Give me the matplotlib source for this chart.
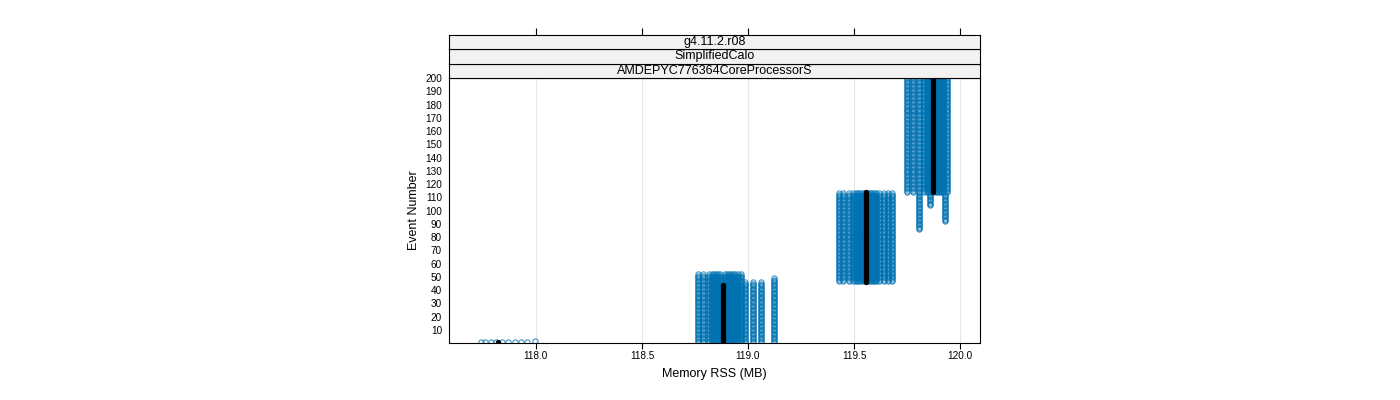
import matplotlib.pyplot as plt
import numpy as np

plt.rcParams['font.family'] = ['Liberation Sans', 'DejaVu Sans']

strip_labels = ["g4.11.2.r08", "SimplifiedCalo", "AMDEPYC776364CoreProcessorS"]
x_ticks = [118.0, 118.5, 119.0, 119.5, 120.0]
y_ticks = list(range(10, 201, 10))

# columns of runs: (memory RSS in MB, first event, last event)
col_mb = [
    # cluster near 117.8 (first event only)
    117.74, 117.76, 117.79, 117.81, 117.84, 117.87, 117.90, 117.93, 117.96, 117.995,
    # cluster near 118.9
    118.765, 118.79, 118.815, 118.83, 118.84, 118.85, 118.86, 118.87, 118.89, 118.90,
    118.91, 118.92, 118.93, 118.94, 118.955, 118.965, 118.988, 119.025, 119.063, 119.123,
    # cluster near 119.55
    119.428, 119.45, 119.475, 119.495, 119.51, 119.52, 119.53, 119.54, 119.55, 119.565,
    119.575, 119.585, 119.595, 119.605, 119.62, 119.64, 119.66, 119.678,
    # cluster near 119.87
    119.748, 119.777, 119.805, 119.83, 119.842, 119.855, 119.865, 119.88, 119.89, 119.90,
    119.91, 119.92, 119.94, 119.808, 119.858, 119.929,
]
col_first = [
    1, 1, 1, 1, 1, 1, 1, 1, 1, 2,
    1, 1, 1, 1, 1, 1, 1, 1, 1, 1,
    1, 1, 1, 1, 1, 1, 1, 1, 1, 1,
    47, 47, 47, 47, 47, 47, 47, 47, 47, 47,
    47, 47, 47, 47, 47, 47, 47, 47,
    114, 114, 114, 114, 114, 114, 114, 114, 114, 114,
    114, 114, 114, 86, 104, 92,
]
col_last = [
    1, 1, 1, 1, 1, 1, 1, 1, 1, 2,
    52, 52, 52, 52, 52, 52, 52, 52, 52, 52,
    52, 52, 52, 52, 52, 52, 46, 46, 46, 49,
    113, 113, 113, 113, 113, 113, 113, 113, 113, 113,
    113, 113, 113, 113, 113, 113, 113, 113,
    200, 200, 200, 200, 200, 200, 200, 200, 200, 200,
    200, 200, 200, 113, 113, 113,
]

# reference run (black): (memory RSS in MB, first event, last event)
ref_mb = [117.82, 118.88, 119.557, 119.873]
ref_first = [1, 1, 46, 114]
ref_last = [1, 44, 114, 200]

fig = plt.figure(figsize=(14, 4), dpi=100)
ax = fig.add_axes([449 / 1400, 1 - 343 / 400, 531 / 1400, 265 / 400])

for mb, a, b in zip(col_mb, col_first, col_last):
    ev = np.arange(a, b + 1)
    ax.plot(np.full(len(ev), mb), ev, 'o', mfc='none', mec='#0072B2',
            ms=3.8, mew=0.8, alpha=0.75, zorder=2)
for mb, a, b in zip(ref_mb, ref_first, ref_last):
    ev = np.arange(a, b + 1)
    ax.plot(np.full(len(ev), mb), ev, 'o', color='black', ms=3.8, mew=0, zorder=3)

ax.set_xlim(117.59, 120.094)
ax.set_ylim(0.2, 200)
ax.set_xticks(x_ticks)
ax.set_xticklabels([f"{v:.1f}" for v in x_ticks], fontsize=7.2)
ax.set_yticks(y_ticks)
ax.set_yticklabels([str(v) for v in y_ticks], fontsize=7.2)
ax.tick_params(axis='x', direction='out', length=4, width=0.8, pad=2)
ax.tick_params(axis='y', length=0, pad=5)
for v in x_ticks:
    ax.axvline(v, color='#e6e6e6', lw=0.8, zorder=0)
for s in ax.spines.values():
    s.set_linewidth(0.8)
ax.set_xlabel("Memory RSS (MB)", fontsize=9, labelpad=5)
ax.set_ylabel("Event Number", fontsize=9, labelpad=4)

strip_h = 14.5 / 400
top = 1 - 78 / 400
for i, lab in enumerate(reversed(strip_labels)):
    sax = fig.add_axes([449 / 1400, top + i * strip_h, 531 / 1400, strip_h])
    sax.set_facecolor('#f2f2f2')
    sax.set_xlim(ax.get_xlim())
    sax.set_yticks([])
    if i == len(strip_labels) - 1:
        sax.xaxis.tick_top()
        sax.set_xticks(x_ticks)
        sax.set_xticklabels([])
        sax.tick_params(axis='x', direction='out', length=5, width=0.8)
    else:
        sax.set_xticks([])
    for s in sax.spines.values():
        s.set_linewidth(0.8)
    sax.text(0.5, 0.5, lab, transform=sax.transAxes, ha='center', va='center', fontsize=9)

fig.savefig("out.png", dpi=100)
